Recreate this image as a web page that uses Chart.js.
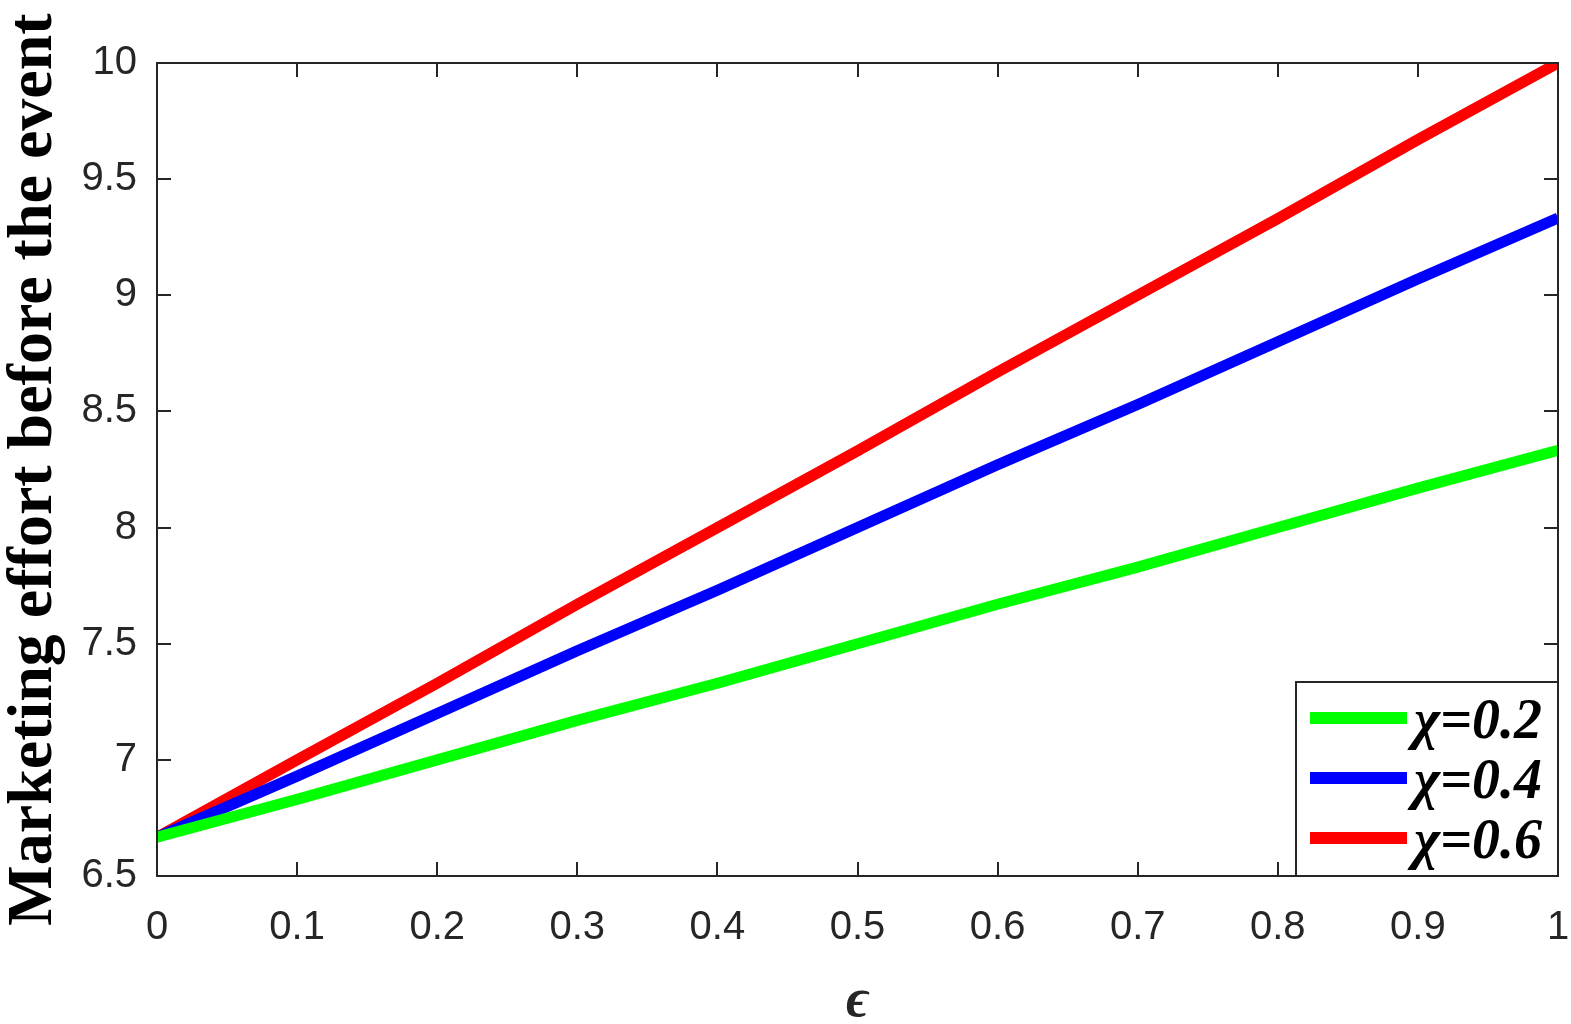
<!DOCTYPE html>
<html>
<head>
<meta charset="utf-8">
<script src="https://cdn.jsdelivr.net/npm/chart.js@4"></script>
<style>
html,body{margin:0;padding:0;background:#fff;}
#wrap{width:1571px;height:1024px;}
</style>
</head>
<body>
<div id="wrap"><canvas id="c" width="1571" height="1024"></canvas></div>
<script>
const epsValues = [0, 0.1, 0.2, 0.3, 0.4, 0.5, 0.6, 0.7, 0.8, 0.9, 1.0];
const chi02 = [6.667, 6.83, 7.0, 7.17, 7.33, 7.5, 7.67, 7.83, 8.0, 8.17, 8.333];
const chi04 = [6.667, 6.93, 7.2, 7.47, 7.73, 8.0, 8.27, 8.53, 8.8, 9.07, 9.333];
const chi06 = [6.667, 7.0, 7.33, 7.67, 8.0, 8.33, 8.67, 9.0, 9.33, 9.67, 10.0];
const seriesLabels = ['\u03c7=0.2', '\u03c7=0.4', '\u03c7=0.6'];
const xTicks = [0, 0.1, 0.2, 0.3, 0.4, 0.5, 0.6, 0.7, 0.8, 0.9, 1];
const yTicks = [6.5, 7, 7.5, 8, 8.5, 9, 9.5, 10];
const xTitle = '\u03f5';
const yTitle = 'Marketing effort before the event';

const colors = ['#00ff00', '#0000ff', '#ff0000'];
const toPts = arr => arr.map((v, i) => ({x: epsValues[i], y: v}));

const axisColor = '#262626';

const boxTicks = {
  id: 'boxTicks',
  afterDraw(chart) {
    const {ctx, chartArea: a, scales: {x, y}} = chart;
    ctx.save();
    ctx.strokeStyle = axisColor;
    ctx.lineWidth = 2;
    ctx.strokeRect(a.left, a.top, a.right - a.left, a.bottom - a.top);
    const L = 14;
    ctx.beginPath();
    xTicks.forEach(v => {
      const px = Math.round(x.getPixelForValue(v));
      ctx.moveTo(px, a.bottom); ctx.lineTo(px, a.bottom - L);
      ctx.moveTo(px, a.top); ctx.lineTo(px, a.top + L);
    });
    yTicks.forEach(v => {
      const py = Math.round(y.getPixelForValue(v));
      ctx.moveTo(a.left, py); ctx.lineTo(a.left + L, py);
      ctx.moveTo(a.right, py); ctx.lineTo(a.right - L, py);
    });
    ctx.stroke();

    // legend box
    const bx = 1296, by = 682, bw = a.right - 1296, bh = a.bottom - 682;
    ctx.fillStyle = '#fff';
    ctx.fillRect(bx, by, bw, bh);
    ctx.strokeRect(bx, by, bw, bh);
    chart.data.datasets.forEach((ds, i) => {
      const ly = 718 + i * 60;
      ctx.strokeStyle = ds.borderColor;
      ctx.lineWidth = 12;
      ctx.beginPath();
      ctx.moveTo(1310, ly); ctx.lineTo(1407, ly);
      ctx.stroke();
      ctx.fillStyle = '#000';
      ctx.font = 'italic bold 56px "Liberation Serif", "Times New Roman", serif';
      ctx.textBaseline = 'alphabetic';
      ctx.textAlign = 'left';
      ctx.fillText(ds.label, 1414, ly + 20);
    });
    ctx.restore();
  }
};

new Chart(document.getElementById('c'), {
  type: 'line',
  data: {
    datasets: [
      {label: seriesLabels[0], data: toPts(chi02), borderColor: colors[0], borderWidth: 11, pointRadius: 0, tension: 0, fill: false},
      {label: seriesLabels[1], data: toPts(chi04), borderColor: colors[1], borderWidth: 11, pointRadius: 0, tension: 0, fill: false},
      {label: seriesLabels[2], data: toPts(chi06), borderColor: colors[2], borderWidth: 11, pointRadius: 0, tension: 0, fill: false}
    ]
  },
  options: {
    responsive: false,
    animation: false,
    devicePixelRatio: 1,
    layout: {padding: {top: 63, right: 13, left: 0, bottom: 0}},
    plugins: {legend: {display: false}, tooltip: {enabled: false}},
    scales: {
      x: {
        type: 'linear', min: 0, max: 1,
        afterBuildTicks: s => { s.ticks = xTicks.map(v => ({value: v})); },
        afterFit: s => { s.height = 148; s.paddingRight = 0; s.paddingLeft = 0; },
        grid: {display: false, drawTicks: false},
        border: {display: false},
        ticks: {
          padding: 28,
          color: axisColor,
          font: {family: '"Liberation Sans", Arial, sans-serif', size: 40},
          callback: v => String(Math.round(v * 10) / 10),
          maxRotation: 0, autoSkip: false
        },
        title: {
          display: true, text: xTitle, color: axisColor,
          font: {family: '"Liberation Serif", "Times New Roman", serif', size: 54, style: 'italic', weight: 'bold', lineHeight: 0.8},
          padding: {top: 30, bottom: 0}
        }
      },
      y: {
        type: 'linear', min: 6.5, max: 10,
        afterBuildTicks: s => { s.ticks = yTicks.map(v => ({value: v})); },
        afterFit: s => { s.width = 157; s.paddingTop = 0; s.paddingBottom = 0; },
        grid: {display: false, drawTicks: false},
        border: {display: false},
        ticks: {
          padding: 20,
          color: axisColor,
          font: {family: '"Liberation Sans", Arial, sans-serif', size: 40},
          callback: v => String(v),
          autoSkip: false
        },
        title: {
          display: true, text: yTitle, color: '#000',
          font: {family: '"Liberation Serif", "Times New Roman", serif', size: 64, weight: 'bold', lineHeight: 1.0},
          padding: {top: 2, bottom: 0}
        }
      }
    }
  },
  plugins: [boxTicks]
});
</script>
</body>
</html>
